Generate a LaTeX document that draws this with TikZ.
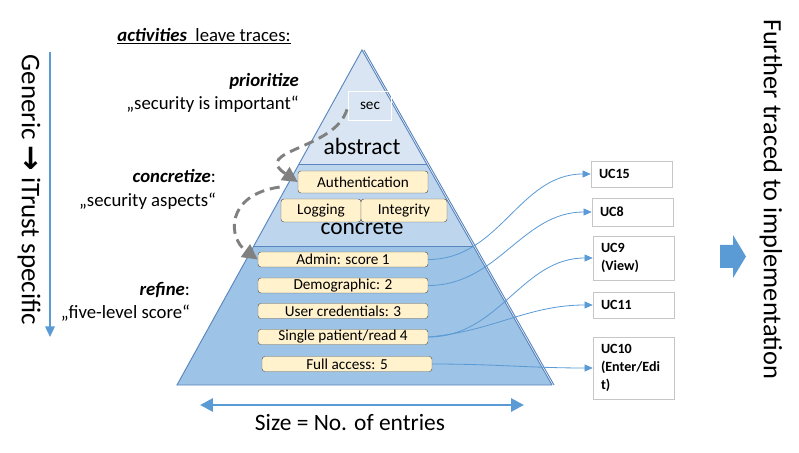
\documentclass[tikz,border=0pt]{standalone}
\usepackage{fontspec}
\setmainfont{Carlito}
\newfontfamily\symfont{DejaVu Sans}
\usetikzlibrary{arrows.meta, positioning, calc}

\definecolor{toplayer}{HTML}{DAE5F3}
\definecolor{midlayer}{HTML}{BDD6EE}
\definecolor{lowlayer}{HTML}{9DC3E6}
\definecolor{edgeblue}{HTML}{5A86BE}
\definecolor{linkblue}{HTML}{5B9BD5}
\definecolor{boxfill}{HTML}{FFF2CC}
\definecolor{tracegray}{HTML}{808080}

\tikzset{
  pyredge/.style={edgeblue, line width=0.8pt},
  aspect/.style={rectangle, rounded corners=2.5pt, draw=gray!70!black, fill=boxfill, inner sep=0pt, font=\fontsize{13}{15}\selectfont},
  score/.style={aspect, minimum width=5.1cm, minimum height=0.45cm},
  usecase/.style={rectangle, draw=gray!45, fill=white, align=left, text width=1.95cm, inner xsep=0.24cm, inner ysep=0pt, font=\bfseries\fontsize{12}{15}\selectfont},
  link/.style={linkblue, line width=0.7pt, -{Triangle[length=7pt, width=6pt]}},
  trace/.style={tracegray, line width=2.5pt, dash pattern=on 8.5pt off 5pt, -{Triangle[length=13pt, width=13pt]}},
  activity/.style={align=right, anchor=east, font=\fontsize{16}{20}\selectfont},
}

\begin{document}
\begin{tikzpicture}[x=0.03cm, y=-0.03cm]
\useasboundingbox (0,0) rectangle (799,453);

% Pyramid corners
\coordinate (apex) at (362,50);
\coordinate (bl) at (177,385);
\coordinate (br) at (552,385);
\coordinate (al) at ($(apex)!0.343!(bl)$);
\coordinate (ar) at ($(apex)!0.343!(br)$);
\coordinate (cl) at ($(apex)!0.585!(bl)$);
\coordinate (cr) at ($(apex)!0.585!(br)$);

% Pyramid layers
\fill[lowlayer] (cl) -- (cr) -- (br) -- (bl) -- cycle;
\fill[midlayer] (al) -- (ar) -- (cr) -- (cl) -- cycle;
\fill[toplayer] (apex) -- (ar) -- (al) -- cycle;
\draw[pyredge] (al) -- (ar) (cl) -- (cr);
\draw[pyredge] (br) -- (bl) -- (apex) -- (br);
\draw[pyredge] ([xshift=1.7pt]apex) -- ([xshift=1.7pt]br);

% Abstract layer
\node[draw=white, line width=0.8pt, minimum width=1.29cm, minimum height=0.87cm, font=\fontsize{13}{15}\selectfont] (sec) at (370,106) {sec};
\node[font=\fontsize{20}{24}\selectfont] (abstract) at (362,146) {abstract};

% Concrete layer
\node[font=\fontsize{20}{24}\selectfont] (concrete) at (362,227) {concrete};
\node[aspect, minimum width=3.9cm, minimum height=0.66cm] (auth) at (363,182) {Authentication};
\node[aspect, minimum width=2.4cm, minimum height=0.69cm] (logging) at (321,210.5) {Logging};
\node[aspect, minimum width=2.58cm, minimum height=0.69cm] (integrity) at (404,210.5) {Integrity};

% Score levels
\node[score] (admin) at (343,259.5) {Admin: score 1};
\node[score] (demo) at (343,285.5) {Demographic: 2};
\node[score] (cred) at (343,311) {User credentials: 3};
\node[score] (single) at (343,337) {Single patient/read 4};
\node[score] (full) at (347,364) {Full access: 5};

% Use cases
\node[usecase, minimum height=0.78cm] (uc15) at (631.5,174) {UC15};
\node[usecase, minimum height=0.84cm] (uc8) at (632.5,212) {UC8};
\node[usecase, minimum height=1.32cm] (uc9) at (633.5,258) {UC9\\(View)};
\node[usecase, minimum height=0.78cm] (uc11) at (633.5,305) {UC11};
\node[usecase, minimum height=1.86cm] (uc10) at (633.5,368) {UC10\\(Enter/Edi\\t)};

% Trace links
\draw[link] (admin.east) to[out=0, in=180] (uc15.west);
\draw[link] (demo.east) to[out=0, in=180] (uc8.west);
\draw[link] (single.east) to[out=0, in=180] (uc9.west);
\draw[link] (single.east) to[out=5, in=180] (uc11.west);
\draw[link] (full.east) to[out=0, in=180] (uc10.west);

% Activities
\node[font=\fontsize{16}{20}\selectfont] (head) at (204,36) {\underline{\textbf{\textit{activities}}~ leave traces:}};
\node[activity] (prio) at (303,93) {\textbf{\textit{prioritize}}\\„security is important“};
\node[activity] (concr) at (220,189.5) {\textbf{\textit{concretize}}:\\„security aspects“};
\node[activity] (refine) at (194,302) {\textbf{\textit{refine}}:\\„five-level score“};

% Dashed refinement arrows
\draw[trace, shorten <=3pt] (sec.west) .. controls (335,150) and (250,150) .. (auth.west);
\draw[trace] ([xshift=-1pt, yshift=10pt]logging.north west) .. controls (225,195) and (228,238) .. (admin.west);

% Generic to specific
\coordinate (gtop) at (50,52);
\coordinate (gbot) at (50,337);
\draw[linkblue, line width=1.7pt, -{Triangle[length=9pt, width=8pt]}] (gtop) -- (gbot);
\node[rotate=-90, font=\fontsize{23}{27}\selectfont] (generic) at (29,190) {Generic {\symfont\bfseries\fontsize{26}{27}\selectfont →} iTrust specific};

% Size arrow
\node[font=\fontsize{20}{24}\selectfont] (size) at (350,423) {Size = No. of entries};
\coordinate (sizel) at (200,405);
\coordinate (sizer) at (524,405);
\draw[linkblue, line width=2.5pt, {Triangle[length=11pt, width=11pt]}-{Triangle[length=11pt, width=11pt]}] (sizel) -- (sizer);

% Further traced
\fill[linkblue] (720,245) -- (733,245) -- (733,235) -- (746,256.5) -- (733,278) -- (733,268) -- (720,268) -- cycle;
\node[rotate=-90, font=\fontsize{22.5}{26}\selectfont] (further) at (771,199) {Further traced to implementation};

\end{tikzpicture}
\end{document}
